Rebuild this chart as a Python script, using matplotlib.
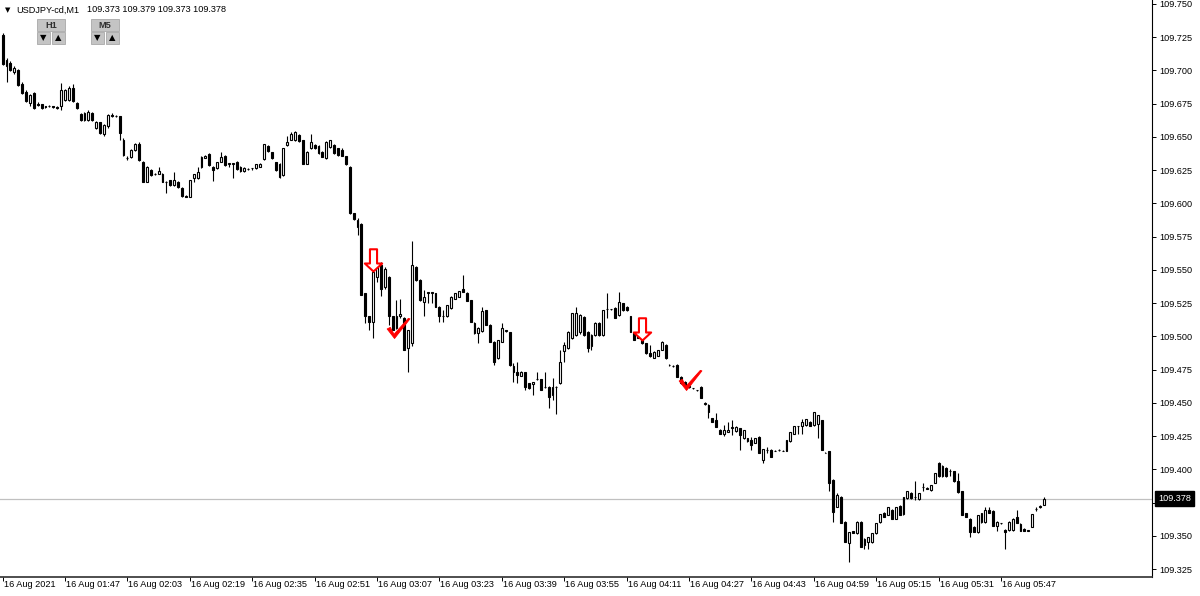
#!/usr/bin/env python3
"""MT4-style M1 candlestick chart of USDJPY-cd."""

import matplotlib
matplotlib.use("Agg")
import matplotlib.pyplot as plt
import matplotlib.transforms as mtransforms
from matplotlib.path import Path
from matplotlib.patches import Rectangle

W, H = 1200, 596
BASE = 109.0  # prices below are in points above 109.000 (1 point = 0.001)

opens = [
    727, 703, 706, 699, 700, 690, 684, 675.5, 683, 674.5, 674.5, 673,
    673, 673, 672.5, 673, 678, 678, 687, 675.5, 667, 663, 663, 668,
    656.5, 661, 652, 658, 666.5, 666, 665.5, 648, 634.5, 635, 640, 645,
    631.5, 616.5, 625, 622, 622.5, 622.5, 616.5, 617.5, 614, 616.5, 612, 605.5,
    605, 619, 619, 627.5, 634.5, 637.5, 627.5, 626.5, 631.5, 636, 630, 630,
    631.5, 627.5, 624.5, 626, 626.5, 626.5, 627.5, 633.5, 643.5, 638.5, 631, 630,
    621.5, 644, 647.5, 647.5, 651.5, 647.5, 630, 641.5, 644, 643.5, 639, 634,
    642.5, 644, 641.5, 640.5, 635.5, 627.5, 592.5, 582.5, 584.5, 532.5, 515, 511,
    545, 554, 537, 545, 515, 506, 515, 514, 491, 495, 552.5, 542.5,
    526, 533, 533, 532.5, 522.5, 515, 515, 521.5, 528.5, 530, 536, 533,
    527.5, 510, 502.5, 504, 520, 508.5, 496, 483.5, 496, 504, 503, 477.5,
    473.5, 470.5, 473, 465, 464, 468, 468, 462, 462, 456, 462, 465,
    489, 491, 498.5, 501, 503, 514.5, 503.5, 492.5, 501, 510, 501, 520.5,
    520.5, 521.5, 516, 525, 522.5, 515, 502.5, 502, 498.5, 495, 487.5, 484,
    485.5, 490, 493.5, 478.5, 478, 478.5, 469.5, 466, 462.5, 461, 459.5, 462,
    449.5, 448.5, 438.5, 437, 430, 426.5, 428.5, 431.5, 429, 431, 423.5, 423.5,
    422, 420, 424.5, 407, 414.5, 414.5, 414, 414.5, 414, 414, 421, 427,
    432.5, 432.5, 433.5, 436, 433.5, 434.5, 437, 412.5, 413.5, 392, 372, 379.5,
    360.5, 344.5, 353.5, 352, 360.5, 343, 345.5, 345.5, 352, 360.5, 367.5, 366,
    369.5, 363, 372.5, 366.5, 378.5, 382.5, 379.5, 377.5, 387, 385.5, 384.5, 390,
    404.5, 395, 401, 398.5, 398.5, 391, 383.5, 367, 363, 357, 353, 360.5,
    360.5, 369.5, 369, 357.5, 359.5, 354.5, 354.5, 354.5, 364.5, 359, 355.5, 354,
    357, 370, 372, 373,
]
highs = [
    728, 709.5, 707, 703, 701, 691, 685, 682, 684, 676.5, 675, 673.5,
    674, 673.5, 673, 690.5, 686, 688, 690, 676, 668, 669, 670, 669,
    662, 661.5, 659.5, 667.5, 668, 666.5, 666, 649, 636, 641, 645.5, 646,
    632, 628, 626, 623, 627.5, 623, 617, 618, 623.5, 617, 612.5, 606,
    618, 622.5, 627.5, 636, 636.5, 638, 628, 631.5, 639, 636.5, 630.5, 630.5,
    632, 628, 627.5, 626.5, 627, 630, 630.5, 645, 644, 639, 631.5, 630.5,
    642, 651, 654, 654.5, 652, 648, 639.5, 652, 644.5, 644, 639.5, 647,
    648, 644.5, 642, 642, 636, 628, 593, 589, 585, 533, 515.5, 556,
    555.5, 556, 552, 545.5, 515.5, 527.5, 528.5, 514.5, 505, 571.5, 553, 543,
    535, 533.5, 533.5, 533, 523, 520, 524, 530.5, 533, 534.5, 546.5, 533.5,
    527.5, 510.5, 507, 522.5, 520, 509, 496.5, 497.5, 510, 505, 503.5, 480,
    481, 474, 473.5, 465, 466, 473.5, 468, 473.5, 462.5, 468.5, 463, 490,
    496, 504, 517.5, 522.5, 517, 515, 504, 501.5, 510.5, 510.5, 520, 532.5,
    521, 522, 533.5, 525.5, 523, 515.5, 503, 502.5, 499, 495, 493.5, 489,
    490, 496.5, 494, 479.5, 478.5, 479, 470, 466.5, 463, 461.5, 460, 462.5,
    450.5, 449, 439, 442.5, 430.5, 433.5, 436, 437, 432.5, 431.5, 430, 424,
    424.5, 424, 425, 415.5, 417, 415, 414.5, 415, 414.5, 422, 428.5, 433,
    433, 438, 438, 436.5, 443.5, 441, 437.5, 413, 414, 392.5, 382.5, 380,
    361, 353, 354, 361, 361, 348.5, 349.5, 352, 360, 366.5, 368, 371.5,
    370, 372, 373, 379.5, 383.5, 383, 391, 382, 390, 386.5, 388.5, 397.5,
    405.5, 403, 401.5, 400.5, 399, 397.5, 384, 367.5, 363.5, 357.5, 366, 367,
    372, 372, 369.5, 361, 360, 355, 361, 363.5, 369.5, 359.5, 356, 354.5,
    366.5, 372, 373.5, 379,
]
lows = [
    704, 691, 699.5, 697, 688, 682, 676, 673, 671, 673, 671, 672,
    672.5, 672, 671, 670, 677, 677, 676, 671, 662, 662, 662, 662,
    656, 652, 651, 657, 665, 665, 647.5, 636, 633, 634.5, 639.5, 632,
    616, 616, 621, 621.5, 622, 616, 607.5, 613.5, 613.5, 612, 605, 604.5,
    604.5, 616, 618.5, 627, 634, 628.5, 617, 626, 631, 628.5, 627.5, 619,
    625.5, 624, 624, 625.5, 625, 626, 627.5, 633, 639, 633.5, 624.5, 619.5,
    621, 643.5, 647.5, 647, 646.5, 629.5, 629.5, 641, 641, 637.5, 635, 633.5,
    642, 637.5, 636, 635.5, 629, 592, 587.5, 576, 531, 510, 505, 498.5,
    541, 530.5, 536, 508.5, 505, 505.5, 514, 489.5, 473.5, 493, 542, 527,
    515, 525, 525, 522, 511, 510.5, 514.5, 521, 528, 529.5, 533.5, 526.5,
    510.5, 502, 495, 503.5, 508.5, 496, 478.5, 483, 495.5, 503, 478, 466,
    465, 470, 459.5, 460.5, 456, 467, 459.5, 461.5, 446, 452, 442, 464,
    481, 490.5, 498, 500.5, 502, 500.5, 488.5, 490, 500.5, 500.5, 500.5, 514,
    520, 513.5, 515.5, 519.5, 519.5, 503.5, 497, 498.5, 494.5, 487, 484.5, 483.5,
    485, 489.5, 483, 477.5, 477, 469.5, 464.5, 463.5, 461.5, 460.5, 459, 453.5,
    448.5, 438.5, 435.5, 432, 426.5, 425, 428, 426, 428.5, 414.5, 423, 420.5,
    414.5, 419.5, 412, 405, 412, 409, 413.5, 414, 413.5, 413.5, 420.5, 426.5,
    427, 427, 433, 432.5, 433, 423.5, 414.5, 412, 383.5, 360.5, 371.5, 359.5,
    345.5, 330.5, 352, 351.5, 342, 340.5, 340.5, 345, 351.5, 360, 364.5, 365.5,
    363, 362.5, 366, 366, 378, 378, 377, 377, 384, 385, 384, 389.5,
    394.5, 394.5, 394.5, 395, 390.5, 382.5, 365.5, 364.5, 349.5, 353, 352.5, 360,
    360, 367, 357.5, 353.5, 359, 340.5, 354, 354, 360, 354, 353.5, 353.5,
    356.5, 368.5, 371, 373,
]
closes = [
    705, 708, 700.5, 702, 689, 683, 677, 681.5, 671.5, 674, 672, 672.5,
    673.5, 672.5, 672, 685, 685, 687, 677, 672, 663, 668, 669, 663,
    661.5, 653, 659, 666.5, 666, 665.5, 653, 636.5, 634, 640.5, 645, 632.5,
    616.5, 627.5, 621.5, 622, 624.5, 616.5, 616, 614, 617.5, 612.5, 605.5, 605,
    617.5, 622, 623.5, 635, 636, 629, 625, 631.5, 635, 629, 630, 630,
    626, 624.5, 627, 626, 626.5, 629.5, 630, 644.5, 639.5, 634, 625, 620,
    641.5, 646.5, 652.5, 654, 647, 630, 639, 646.5, 641.5, 638, 635, 646.5,
    647.5, 638, 636.5, 635.5, 629.5, 592.5, 588, 587.5, 531, 515, 511, 548.5,
    552.5, 536, 551, 515, 505, 515, 516.5, 490, 505, 554, 542.5, 527.5,
    530, 533, 533, 522.5, 515, 515.5, 523.5, 530, 532.5, 534, 533.5, 526.5,
    511, 502.5, 506, 519, 508.5, 496, 481, 497.5, 506.5, 504.5, 478.5, 473.5,
    471, 473.5, 462, 461, 465.5, 468, 459.5, 462, 454.5, 462, 462, 481,
    493.5, 503.5, 517.5, 517.5, 516, 501, 491, 501, 510, 501, 520, 520.5,
    520.5, 514, 526, 520, 520, 503.5, 497.5, 499, 495, 487.5, 485, 488.5,
    490, 496, 483.5, 478.5, 477.5, 469.5, 465, 463.5, 462, 461, 459.5, 453.5,
    449.5, 443.5, 436, 432, 426.5, 430, 430, 431.5, 432, 426, 429.5, 421,
    418.5, 423.5, 412, 415, 414.5, 409, 414, 414.5, 414, 422, 428.5, 432.5,
    432.5, 436, 438, 432.5, 443.5, 441, 414.5, 412.5, 389.5, 368, 381, 359.5,
    345.5, 353, 352.5, 360.5, 342, 348, 349.5, 352, 360, 366.5, 364.5, 371.5,
    363, 372, 366, 379.5, 383.5, 378.5, 379.5, 382, 387, 386, 388.5, 397.5,
    395, 402.5, 395, 398.5, 391, 383, 366, 364.5, 353, 353, 366, 367,
    369.5, 367.5, 357.5, 360.5, 359.5, 353, 360.5, 363, 360, 354, 354, 354,
    366.5, 370, 372, 378,
]

symbol = "USDJPY-cd,M1"
last_ohlc = ["109.373", "109.379", "109.373", "109.378"]
bid = 109.378

first_label = "16 Aug 2021"
start_time = "01:31"
label_times = ["01:47", "02:03", "02:19", "02:35", "02:51", "03:07", "03:23",
               "03:39", "03:55", "04:11", "04:27", "04:43", "04:59", "05:15",
               "05:31", "05:47"]

price_ticks = [109.325, 109.350, 109.375, 109.400, 109.425, 109.450, 109.475,
               109.500, 109.525, 109.550, 109.575, 109.600, 109.625, 109.650,
               109.675, 109.700, 109.725, 109.750]

# signal objects on the chart: (bar, price of the tip in points)
arrow_bars = [95, 164]
arrow_tips = [549.0, 497.0]
check_bars = [100, 175]
check_tips = [498.5, 460.0]

FONT = "Liberation Sans"
FS = 6.6
BAR_PX = 3.9      # horizontal spacing of bars in pixels
FIRST_PX = 2.6    # pixel x of the first bar
PLOT_W = 1152
PLOT_H = 577


def minutes(t):
    h, m = t.split(":")
    return int(h) * 60 + int(m)


def px_to_fig(x, y):
    return x / W, 1 - y / H


def main():
    o = [BASE + v / 1000 for v in opens]
    hi = [BASE + v / 1000 for v in highs]
    lo = [BASE + v / 1000 for v in lows]
    c = [BASE + v / 1000 for v in closes]
    xs = list(range(len(o)))

    fig = plt.figure(figsize=(W / 100, H / 100), dpi=100)
    fig.patch.set_facecolor("white")
    ax = fig.add_axes([0, (H - PLOT_H) / H, PLOT_W / W, PLOT_H / H])

    ax.set_xlim(-FIRST_PX / BAR_PX, (PLOT_W - FIRST_PX) / BAR_PX)
    ax.set_ylim(109.3191, 109.7530)

    # wicks then bodies
    ax.vlines(xs, lo, hi, colors="black", linewidth=0.8, zorder=2)
    bottoms = [min(a, b) for a, b in zip(o, c)]
    heights = [max(abs(b - a), 0.00012) for a, b in zip(o, c)]
    faces = ["white" if b >= a else "black" for a, b in zip(o, c)]
    ax.bar(xs, heights, bottom=bottoms, width=0.5, color=faces,
           edgecolor="black", linewidth=0.8, zorder=3)

    # bid line
    ax.axhline(bid, color="#c0c0c0", linewidth=0.9, zorder=1)

    # signal arrows and check marks
    arrow = Path([(-0.16, 1), (0.16, 1), (0.16, 0.36), (0.39, 0.36), (0, 0),
                  (-0.39, 0.36), (-0.16, 0.36), (-0.16, 1)], closed=True)
    ax.plot(arrow_bars, [BASE + v / 1000 for v in arrow_tips], linestyle="none",
            marker=arrow, markersize=32, markerfacecolor="white",
            markeredgecolor="red", markeredgewidth=1.5, zorder=5)
    check = Path([(-6, 9), (-3, 10.5), (0.5, 4), (14, 19), (15.5, 18.5),
                  (1, 0), (-6, 9)], closed=True)
    ax.plot(check_bars, [BASE + v / 1000 for v in check_tips], linestyle="none",
            marker=check, markersize=29, markerfacecolor="red",
            markeredgecolor="red", markeredgewidth=0.6, zorder=5)

    # axes frame
    for side in ("top", "left"):
        ax.spines[side].set_visible(False)
    ax.spines["right"].set_linewidth(0.8)
    ax.spines["bottom"].set_linewidth(1.2)
    ax.spines["bottom"].set_color("#303030")

    # price scale on the right; the level under the bid box is left blank
    ax.yaxis.tick_right()
    ax.set_yticks(price_ticks)
    ax.set_yticklabels(["" if abs(p - bid) < 0.005 else f"{p:.3f}"
                        for p in price_ticks], fontfamily=FONT, fontsize=FS)
    ax.tick_params(axis="y", direction="out", length=3, width=0.7, pad=2.5,
                   colors="black")

    # time scale
    t0 = minutes(start_time)
    tick_pos = [0] + [minutes(t) - t0 for t in label_times]
    tick_txt = [first_label] + ["16 Aug " + t for t in label_times]
    ax.set_xticks(tick_pos)
    ax.set_xticklabels([])
    ax.tick_params(axis="x", direction="out", length=3, width=0.7)
    blend = mtransforms.blended_transform_factory(ax.transData, ax.transAxes)
    for pos, txt in zip(tick_pos, tick_txt):
        ax.annotate(txt, xy=(pos, 0), xycoords=blend, xytext=(1, -3),
                    textcoords="offset pixels", ha="left", va="top",
                    fontfamily=FONT, fontsize=FS, annotation_clip=False)

    # bid label box
    yblend = mtransforms.blended_transform_factory(ax.transAxes, ax.transData)
    ax.annotate(f"{bid:.3f}", xy=(1, bid), xycoords=yblend, xytext=(6, 0),
                textcoords="offset pixels", ha="left", va="center",
                color="white", fontfamily=FONT, fontsize=FS,
                annotation_clip=False, zorder=10,
                bbox=dict(boxstyle="square,pad=0.3", fc="black", ec="black"))

    # header
    fig.text(*px_to_fig(5, 10), "\u25bc", fontsize=5, va="center", ha="left",
             fontfamily="DejaVu Sans")
    fig.text(*px_to_fig(16, 10), symbol, fontsize=FS, va="center", ha="left",
             fontfamily=FONT)
    fig.text(*px_to_fig(87, 10), " ".join(last_ohlc), fontsize=FS, va="center",
             ha="left", fontfamily=FONT)

    for label, left in (("H1", 37), ("M5", 91)):
        fig.patches.append(Rectangle(px_to_fig(left, 31), 28 / W, 12 / H,
                                     transform=fig.transFigure,
                                     facecolor="#c4c4c4", edgecolor="#a8a8a8",
                                     linewidth=0.6))
        fig.text(*px_to_fig(left + 14, 25), label, fontsize=FS, ha="center",
                 va="center", color="#303030", fontfamily=FONT,
                 fontweight="bold")
        for k, glyph in enumerate(("\u25bc", "\u25b2")):
            bx = left + k * 15
            fig.patches.append(Rectangle(px_to_fig(bx, 44), 13 / W, 12 / H,
                                         transform=fig.transFigure,
                                         facecolor="#c4c4c4",
                                         edgecolor="#a8a8a8", linewidth=0.6))
            fig.text(*px_to_fig(bx + 6.5, 38), glyph, fontsize=6, ha="center",
                     va="center", fontfamily="DejaVu Sans")

    fig.savefig("out.png", dpi=100, facecolor="white")


if __name__ == "__main__":
    main()
